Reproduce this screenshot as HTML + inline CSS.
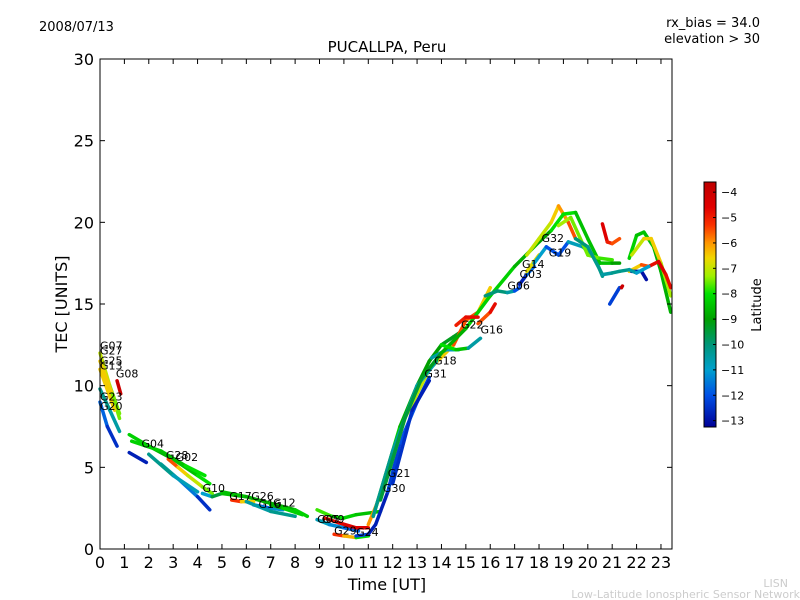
<!DOCTYPE html>
<html><head><meta charset="utf-8"><style>
body{margin:0;background:#fff;}
svg{display:block;font-family:"DejaVu Sans","Liberation Sans",sans-serif;}
</style></head><body>
<svg id="chart" width="800" height="600">
<rect x="0" y="0" width="800" height="600" fill="#fff"/>
<text x="39" y="31" font-size="13">2008/07/13</text>
<text x="760" y="27" font-size="13" text-anchor="end">rx_bias = 34.0</text>
<text x="760" y="43" font-size="13" text-anchor="end">elevation &gt; 30</text>
<text x="387" y="52" font-size="15" text-anchor="middle">PUCALLPA, Peru</text>
<text x="387" y="590" font-size="16" text-anchor="middle">Time [UT]</text>
<text x="67" y="304" font-size="16" text-anchor="middle" transform="rotate(-90 67 304)">TEC [UNITS]</text>
<text x="788" y="587" font-size="11" fill="#ccc" text-anchor="end">LISN</text>
<text x="800" y="598" font-size="11" fill="#ccc" text-anchor="end">Low-Latitude Ionospheric Sensor Network</text>
<g id="marks"></g>
<g id="axes"></g>
<g id="cbar"></g>
</svg>
<script>
const xTicks=[0,1,2,3,4,5,6,7,8,9,10,11,12,13,14,15,16,17,18,19,20,21,22,23];
const yTicks=[0,5,10,15,20,25,30];
const cbTicks=[-4,-5,-6,-7,-8,-9,-10,-11,-12,-13];
const latMin=-13.25, latMax=-3.6;
const tracks=[
{n:"G07",t:[0,0.4,0.8],v:[12,10,8.3],lat:[-7,-7,-8]},
{n:"G27",t:[0,0.5,0.8],v:[11.5,9.5,8],lat:[-6,-7,-8]},
{n:"G13",t:[0,0.6],v:[11,8.5],lat:[-6,-7]},
{n:"G08",t:[0.7,0.85],v:[10.3,9.5],lat:[-4,-4]},
{n:"G23",t:[0,0.4,0.8],v:[9.8,8.5,7.2],lat:[-10,-10.5,-10.5]},
{n:"G20",t:[0,0.3,0.7],v:[9,7.5,6.3],lat:[-11.5,-12,-13]},
{n:"G04",t:[1.2,2,3,4,4.5],v:[7,6.3,5.5,4.5,4],lat:[-8,-8.5,-9,-8,-8]},
{n:"G04b",t:[1.3,2.5,3.5,4.3],v:[6.6,6,5.1,4.5],lat:[-7.5,-9,-8,-8]},
{n:"B1",t:[1.2,1.9],v:[5.9,5.3],lat:[-12.5,-13]},
{n:"G28",t:[2.8,3.2,3.6,4.2,4.6],v:[5.5,5,4.5,3.8,3.4],lat:[-5,-6,-7,-7,-8]},
{n:"G02",t:[2.5,3.2,4,4.5],v:[5.2,4.3,3.2,2.4],lat:[-10,-11,-12,-13]},
{n:"T1",t:[2,3,4],v:[5.8,4.5,3.5],lat:[-10,-10.5,-11]},
{n:"G10",t:[4.2,4.6,5,5.5,6],v:[3.4,3.2,3.4,3.3,3.2],lat:[-11,-11,-8,-9,-9]},
{n:"GB",t:[5,6,7,8,8.5],v:[3.5,3.2,2.8,2.4,2.0],lat:[-8.5,-8.5,-9,-8.5,-8]},
{n:"G17",t:[5.4,5.8,6.3],v:[3,2.9,2.9],lat:[-4.5,-6,-7]},
{n:"G16b",t:[6.3,7,7.5],v:[2.7,2.5,2.4],lat:[-12,-11.5,-11]},
{n:"G12",t:[7,7.5,8.3],v:[2.7,2.5,2.1],lat:[-9,-8.5,-8]},
{n:"C1",t:[6,7,8],v:[2.9,2.3,2.0],lat:[-10.5,-10.5,-10]},
{n:"G05",t:[8.9,9.4,10,10.6],v:[1.8,1.5,1.3,1.1],lat:[-10.5,-11,-11.5,-12]},
{n:"G09",t:[9.2,9.8,10.5,11],v:[1.9,1.6,1.3,1.3],lat:[-5,-4.5,-4.5,-4.5]},
{n:"GN",t:[8.9,9.5,10,10.5,11.5],v:[2.4,2,1.9,2.1,2.3],lat:[-7.5,-8,-8,-8.5,-8.5]},
{n:"G29",t:[9.6,10,10.5,11],v:[0.9,0.8,0.7,0.8],lat:[-5,-5.5,-7,-9]},
{n:"G24",t:[10.5,11,11.3],v:[0.8,0.9,1.5],lat:[-12,-12.5,-13]},
{n:"G21",t:[11.2,11.7,12.3,13,13.5,14,14.5,15],v:[2,4.5,7.5,10,11.5,12.5,13,13.5],lat:[-8,-8,-8.5,-9,-9,-9,-9.5,-9]},
{n:"G30",t:[11.3,11.8,12.3,13,13.5],v:[1.5,3.5,6.5,9,10.5],lat:[-13,-12.5,-12,-12,-12.5]},
{n:"Y1",t:[11,11.7,12.5,13.5,14.5,15,15.5,16],v:[1.5,4,8,11,12.5,14,14.5,16],lat:[-6,-6,-7,-7,-6,-5,-6,-7]},
{n:"T2",t:[11.2,12,13,13.8],v:[2,6,10,11.5],lat:[-10,-10.5,-10.5,-11]},
{n:"G31",t:[12,12.8,13.5],v:[4,8.5,10.3],lat:[-12.5,-12.5,-13]},
{n:"G18",t:[13.6,14.2,14.7],v:[11.7,12.2,12.2],lat:[-10.5,-10.5,-11]},
{n:"DG",t:[11.5,12.5,13.2,14,15,16,17,18,18.5],v:[3,8,10.5,12,13.5,15.5,17.3,18.8,19.5],lat:[-9.5,-9.5,-9.5,-9,-8.5,-8,-8.5,-9,-9]},
{n:"G16",t:[14,14.6,15.1,15.6],v:[12.5,12.2,12.3,12.9],lat:[-8,-8,-9,-12]},
{n:"G22",t:[14.6,15,15.5],v:[13.7,14.2,14.2],lat:[-5,-5,-4.5]},
{n:"O1",t:[15.5,16,16.2],v:[13.8,14.5,15],lat:[-6,-5,-4.5]},
{n:"G06",t:[15.8,16.3,16.7,17,17.2],v:[15.5,15.8,15.7,15.8,16],lat:[-10,-10,-10,-11,-13]},
{n:"G03",t:[17.2,17.5,17.8],v:[16.2,16.8,17.3],lat:[-13,-12.5,-11]},
{n:"G14",t:[17.5,18],v:[17,18],lat:[-7,-6.5]},
{n:"G32",t:[17.5,18,18.5,18.8,19.2,19.5],v:[18,19,20,21,20,19],lat:[-7,-7,-7,-6,-6,-5]},
{n:"G19",t:[17.8,18.3,18.8,19.2,19.8,20.3,20.6],v:[17.5,18.5,18,18.8,18.5,17.8,16.7],lat:[-11,-11,-13,-11,-10.5,-10,-10.5]},
{n:"GR",t:[18.5,19,19.5,20,20.5,21,21.3],v:[19.5,20.5,20.6,19,17.5,17.5,17.5],lat:[-8,-8,-8,-9,-8,-9,-9]},
{n:"YG",t:[18.8,19.3,20,20.5,21],v:[19.8,20.3,18,17.8,17.7],lat:[-7,-7.5,-7.5,-7.5,-8]},
{n:"TD",t:[19.5,20,20.6,21,21.3],v:[19,18.5,16.8,16.9,17],lat:[-10,-10,-10.5,-10.5,-10]},
{n:"R1",t:[20.6,20.8,21,21.3],v:[19.9,18.8,18.7,19],lat:[-4,-5,-5,-6]},
{n:"B2",t:[20.9,21.3],v:[15,16],lat:[-12.5,-12]},
{n:"R2",t:[21.38,21.42],v:[16,16.1],lat:[-4,-4]},
{n:"RG",t:[21.7,22,22.3,22.7,23,23.4],v:[17.8,19.2,19.4,18.5,17,14.5],lat:[-8,-8.5,-8.5,-8.5,-9,-8.5]},
{n:"RY",t:[21.8,22.3,22.6,23,23.4],v:[18,19,19,17.5,15.5],lat:[-7,-7,-6,-7,-7.5]},
{n:"RO",t:[21.7,22.2,22.5,22.9,23.2,23.4],v:[17,17.4,17.3,17.6,16.8,16],lat:[-7,-6,-5,-4.5,-4.5,-5]},
{n:"RB",t:[21.8,22.2,22.4],v:[17,17,16.5],lat:[-13,-13,-13]},
{n:"RT",t:[21.3,21.7,22,22.5],v:[17,17.1,16.9,17.3],lat:[-10.5,-10,-11,-11]}
];
const labelNames=["G07","G27","G25","G13","G08","G23","G20","G04","G28","G02","G10","G17","G26","G16","G12","G05","G09","G29","G24","G21","G30","G31","G18","G22","G16","G06","G03","G14","G32","G19"];
const labelT=[0,0,0,0,0.65,0,0,1.7,2.7,3.1,4.2,5.3,6.2,6.5,7.1,8.9,9.1,9.6,10.5,11.8,11.6,13.3,13.7,14.8,15.6,16.7,17.2,17.3,18.1,18.4];
const labelV=[12.2,11.9,11.3,11,10.5,9.1,8.5,6.2,5.5,5.4,3.5,3.0,3.0,2.5,2.6,1.6,1.6,0.9,0.8,4.4,3.5,10.5,11.3,13.5,13.2,15.9,16.6,17.2,18.8,17.9];
const NS="http://www.w3.org/2000/svg";
const X0=100,X1=672,Y0=549,Y1=59;
function xs(t){return X0+t*24.39;}
function ys(v){return Y0-v*(Y0-Y1)/30;}
const cmStops=[[-3.6,[190,0,0]],[-4.6,[225,0,0]],[-5.3,[250,50,0]],[-6,[255,150,0]],[-6.6,[240,215,0]],[-7.3,[160,240,0]],[-8,[0,225,0]],[-9,[0,160,0]],[-10,[0,150,120]],[-11,[0,160,205]],[-12,[0,80,230]],[-13.25,[0,0,150]]];
function jet(lat){
 if(lat>=cmStops[0][0])return `rgb(${cmStops[0][1].join(',')})`;
 for(let i=0;i<cmStops.length-1;i++){const a=cmStops[i],b=cmStops[i+1];
  if(lat<=a[0]&&lat>=b[0]){const f=(a[0]-lat)/(a[0]-b[0]);
   return `rgb(${[0,1,2].map(k=>Math.round(a[1][k]+(b[1][k]-a[1][k])*f)).join(',')})`;}}
 return `rgb(${cmStops[cmStops.length-1][1].join(',')})`;}
function mk(tag,attrs,parent){const e=document.createElementNS(NS,tag);for(const k in attrs)e.setAttribute(k,attrs[k]);parent.appendChild(e);return e;}
const marks=document.getElementById('marks');
tracks.forEach(tr=>{
 const g=mk('g',{},marks);
 
 
 for(let i=0;i<tr.t.length-1;i++){
  const l=mk('line',{x1:xs(tr.t[i]),y1:ys(tr.v[i]),x2:xs(tr.t[i+1]),y2:ys(tr.v[i+1]),stroke:jet((tr.lat[i]+tr.lat[i+1])/2),'stroke-width':3.5,'stroke-linecap':'round'},g);
  
  
 }
});
labelNames.forEach((n,i)=>{
 const t=mk('text',{x:xs(labelT[i]),y:ys(labelV[i]),'font-size':11},marks);
 t.textContent=n;
 
 
});
const axes=document.getElementById('axes');
const fr=mk('rect',{x:X0,y:Y1,width:X1-X0,height:Y0-Y1,fill:'none',stroke:'#000','stroke-width':1},axes);


xTicks.forEach(v=>{const x=xs(v);
 mk('line',{x1:x,y1:Y0,x2:x,y2:Y0-5,stroke:'#000'},axes);
 mk('line',{x1:x,y1:Y1,x2:x,y2:Y1+5,stroke:'#000'},axes);
 const t=mk('text',{x:x,y:Y0+19,'font-size':16,'text-anchor':'middle'},axes);t.textContent=v;
 
 });
yTicks.forEach(v=>{const y=ys(v);
 mk('line',{x1:X0,y1:y,x2:X0+5,y2:y,stroke:'#000'},axes);
 mk('line',{x1:X1,y1:y,x2:X1-5,y2:y,stroke:'#000'},axes);
 const t=mk('text',{x:X0-6,y:y+6,'font-size':16,'text-anchor':'end'},axes);t.textContent=v;
 
 });
const cb=document.getElementById('cbar');
const CX=704,CW=12,CT=182,CB=427;
function cy(l){return CT+(latMax-l)/(latMax-latMin)*(CB-CT);}
for(let y=CT;y<CB;y++){const l=latMax-(y-CT+0.5)/(CB-CT)*(latMax-latMin);mk('rect',{x:CX,y:y,width:CW,height:1.2,fill:jet(l)},cb);}
const cbf=mk('rect',{x:CX,y:CT,width:CW,height:CB-CT,fill:'none',stroke:'#000'},cb);


cbTicks.forEach(v=>{const y=cy(v);
 mk('line',{x1:CX+CW-3,y1:y,x2:CX+CW,y2:y,stroke:'#000'},cb);
 const t=mk('text',{x:CX+CW+5,y:y+4,'font-size':11},cb);t.textContent='\u2212'+Math.abs(v);
 
 });
const cl=mk('text',{x:761,y:305,'font-size':13,'text-anchor':'middle',transform:'rotate(-90 761 305)'},cb);cl.textContent='Latitude';


</script>
</body></html>
